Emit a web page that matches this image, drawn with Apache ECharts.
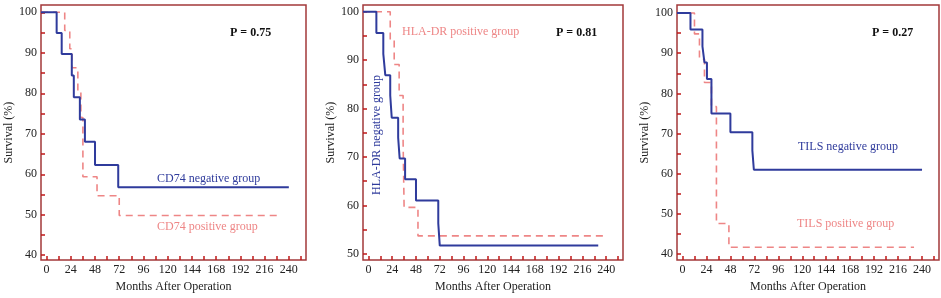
<!DOCTYPE html>
<html><head><meta charset="utf-8">
<script src="https://cdn.jsdelivr.net/npm/echarts@6/dist/echarts.min.js"></script>
<style>html,body{margin:0;padding:0;background:#fff}#c{width:941px;height:298px}</style>
</head><body><div id="c"></div>
<script>
// ---- data ----
const xTickLabels = [0, 24, 48, 72, 96, 120, 144, 168, 192, 216, 240];
const xMinorTicks = [0, 12, 24, 36, 48, 60, 72, 84, 96, 108, 120, 132, 144, 156, 168, 180, 192, 204, 216, 228, 240, 252];
const yLabels40 = [40, 50, 60, 70, 80, 90, 100];
const yTicks40 = [40, 45, 50, 55, 60, 65, 70, 75, 80, 85, 90, 95, 100];
const yLabels50 = [50, 60, 70, 80, 90, 100];
const yTicks50 = [50, 55, 60, 65, 70, 75, 80, 85, 90, 95, 100];

// CD74 panel (curves drawn from the left frame edge, as in the figure)
const cd74NegMonths = [-5.5, 10, 15, 25, 27, 33, 38, 48, 71, 240];
const cd74NegSurv   = [100, 94.9, 89.7, 84.4, 79.0, 73.5, 68.0, 62.3, 56.8, 56.8];
const cd74PosMonths = [-5.5, 18, 23, 25, 31, 34, 36, 50, 72, 231];
const cd74PosSurv   = [100, 95.5, 91.0, 86.3, 80.5, 74.0, 59.4, 54.7, 49.8, 49.8];
const pCD74 = 'P = 0.75';

// HLA-DR panel
const hlaNegMonths = [-5.5, 8, 15, 17, 22, 23.5, 30, 31.5, 37, 48, 70.5, 72, 232];
const hlaNegSurv   = [100, 95.6, 91.3, 86.9, 82.7, 78.1, 74.0, 69.7, 65.4, 61.0, 56.3, 51.7, 51.7];
const hlaPosMonths = [-5.5, 22, 26, 31, 35, 36, 50, 239];
const hlaPosSurv   = [100, 94.2, 89.1, 82.7, 73.0, 59.6, 53.7, 53.7];
const pHLA = 'P = 0.81';

// TILS panel
const tilsNegMonths = [-5.5, 8, 20, 22, 24.5, 29, 48, 70, 71.5, 240];
const tilsNegSurv   = [100, 95.9, 91.7, 87.7, 83.6, 75.0, 70.3, 65.8, 61.0, 61.0];
const tilsPosMonths = [-5.5, 12, 17, 22, 29, 34, 46.5, 232];
const tilsPosSurv   = [100, 94.8, 88.5, 82.7, 76.7, 47.6, 41.7, 41.7];
const pTILS = 'P = 0.27';

// ---- chart ----
const FONT = '"Liberation Serif", "Times New Roman", serif';
const BLUE = '#2f3b9c';
const PINK = '#ee8686';
const BORDER = '#a3393a';
const TICK = '#c01818';
const pairs = (xs, ys) => xs.map((x, i) => [x, ys[i]]);

const grids = [
  {left: 41, top: 5, width: 265, height: 258},
  {left: 363, top: 5, width: 260, height: 258},
  {left: 677, top: 5, width: 262, height: 258}
];
const yRanges = [[38.8, 101.8], [48.7, 101.4], [38.5, 102]];
const yLab = [yLabels40, yLabels50, yLabels40];
const yTk = [yTicks40, yTicks50, yTicks40];

const option = {
  animation: false,
  backgroundColor: '#fff',
  grid: grids.map(g => Object.assign({show: true, borderColor: BORDER, borderWidth: 1.5, backgroundColor: 'transparent'}, g)),
  xAxis: grids.map((g, i) => ({
    type: 'value', gridIndex: i, min: -5.5, max: 257,
    name: 'Months After Operation', nameLocation: 'middle', nameGap: 19,
    nameTextStyle: {fontFamily: FONT, fontSize: 12, color: '#222'},
    axisLine: {show: false},
    splitLine: {show: false},
    axisTick: {show: true, inside: true, length: 4, customValues: xMinorTicks, lineStyle: {color: TICK, width: 1.5}},
    axisLabel: {customValues: xTickLabels, fontFamily: FONT, fontSize: 12, color: '#222', margin: 4}
  })),
  yAxis: grids.map((g, i) => ({
    type: 'value', gridIndex: i, min: yRanges[i][0], max: yRanges[i][1],
    name: 'Survival (%)', nameLocation: 'middle', nameGap: 25, nameRotate: 90,
    nameTextStyle: {fontFamily: FONT, fontSize: 12, color: '#222'},
    axisLine: {show: false, onZero: false},
    splitLine: {show: false},
    axisTick: {show: true, inside: true, length: 4, customValues: yTk[i], lineStyle: {color: TICK, width: 1.5}},
    axisLabel: {customValues: yLab[i], fontFamily: FONT, fontSize: 12, color: '#222', margin: 4}
  })),
  series: [
    [cd74PosMonths, cd74PosSurv, 0, true],
    [cd74NegMonths, cd74NegSurv, 0, false],
    [hlaPosMonths, hlaPosSurv, 1, true],
    [hlaNegMonths, hlaNegSurv, 1, false],
    [tilsPosMonths, tilsPosSurv, 2, true],
    [tilsNegMonths, tilsNegSurv, 2, false]
  ].map(([xs, ys, gi, pos]) => ({
    type: 'line', xAxisIndex: gi, yAxisIndex: gi, step: 'end', showSymbol: false, silent: true,
    data: pairs(xs, ys),
    lineStyle: pos ? {color: PINK, width: 1.6, type: [7, 5]} : {color: BLUE, width: 2}
  })),
  graphic: [
    {type: 'text', x: 230, y: 33, style: {text: pCD74, fill: '#111', font: 'bold 12px ' + FONT, textVerticalAlign: 'middle'}},
    {type: 'text', x: 157, y: 179, style: {text: 'CD74 negative group', fill: BLUE, font: '12px ' + FONT, textVerticalAlign: 'middle'}},
    {type: 'text', x: 157, y: 227, style: {text: 'CD74 positive group', fill: PINK, font: '12px ' + FONT, textVerticalAlign: 'middle'}},
    {type: 'text', x: 402, y: 32, style: {text: 'HLA-DR positive group', fill: PINK, font: '12px ' + FONT, textVerticalAlign: 'middle'}},
    {type: 'text', x: 556, y: 33, style: {text: pHLA, fill: '#111', font: 'bold 12px ' + FONT, textVerticalAlign: 'middle'}},
    {type: 'text', x: 376.5, y: 135, rotation: Math.PI / 2, style: {text: 'HLA-DR negative group', fill: BLUE, font: '12px ' + FONT, textAlign: 'center', textVerticalAlign: 'middle'}},
    {type: 'text', x: 872, y: 33, style: {text: pTILS, fill: '#111', font: 'bold 12px ' + FONT, textVerticalAlign: 'middle'}},
    {type: 'text', x: 798, y: 147, style: {text: 'TILS negative group', fill: BLUE, font: '12px ' + FONT, textVerticalAlign: 'middle'}},
    {type: 'text', x: 797, y: 224, style: {text: 'TILS positive group', fill: PINK, font: '12px ' + FONT, textVerticalAlign: 'middle'}}
  ]
};
const chart = echarts.init(document.getElementById('c'), null, {renderer: 'canvas'});
chart.setOption(option);
</script>
</body></html>
